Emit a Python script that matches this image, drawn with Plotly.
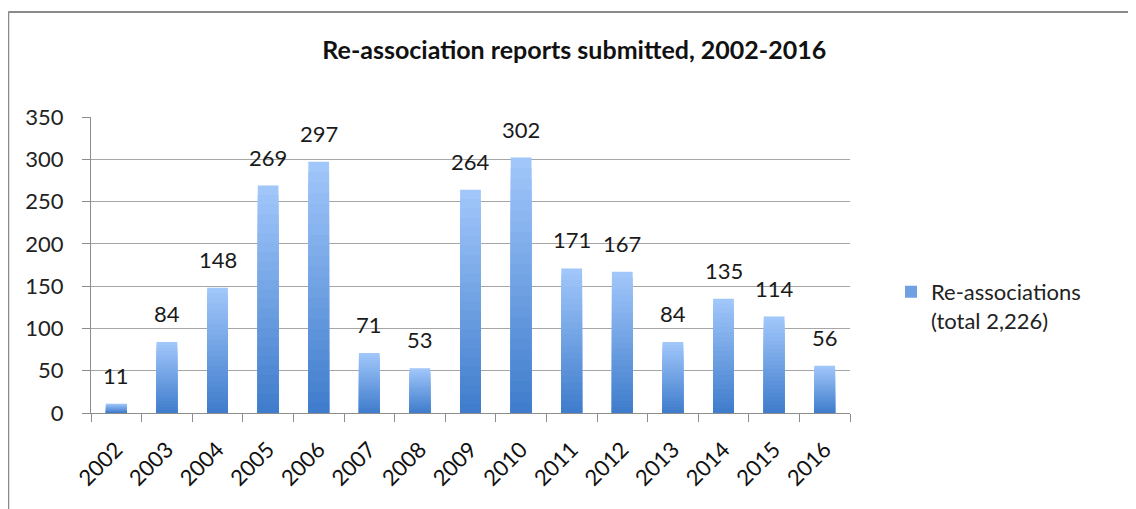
import plotly.graph_objects as go

years = ["2002", "2003", "2004", "2005", "2006", "2007", "2008", "2009",
         "2010", "2011", "2012", "2013", "2014", "2015", "2016"]
reports = [11, 84, 148, 269, 297, 71, 53, 264, 302, 171, 167, 84, 135, 114, 56]
series_name = "Re-associations<br>(total 2,226)"
chart_title = "Re-association reports submitted, 2002-2016"

FONT = "Lato"
top_rgb = (160, 198, 250)
bottom_rgb = (60, 122, 202)


def blend(k):
    r, g, b = [round(lo + (hi - lo) * k) for lo, hi in zip(bottom_rgb, top_rgb)]
    return f"rgb({r},{g},{b})"


fig = go.Figure()

# overlay shorter bars to fake Excel's vertical gradient (light top, dark bottom)
steps = 24
for i in range(steps, 0, -1):
    k = i / steps
    fig.add_trace(go.Bar(x=years, y=[v * k for v in reports], marker=dict(color=blend(k), line_width=0),
                         name=series_name, showlegend=(i == steps // 2), hoverinfo="skip"))

# value labels sit a little above each bar, like Excel
for idx, v in enumerate(reports):
    fig.add_annotation(x=idx, y=v, text=str(v), showarrow=False, yanchor="bottom", yshift=13,
                       font=dict(family=FONT, size=22, color="#1a1a1a"))

# the page body adds an 8px offset, so the figure is 8px smaller than the window
fig.update_layout(
    width=1128, height=501,
    barmode="overlay", bargap=0.59,
    paper_bgcolor="white", plot_bgcolor="white",
    margin=dict(l=83, r=286, t=109, b=96),
    font=dict(family=FONT, size=22, color="#222"),
    title=dict(text=f"<b>{chart_title}</b>", x=0.502, xanchor="center", y=0.916, yanchor="middle",
               font=dict(family=FONT, size=25, color="#111")),
    legend=dict(x=1.054, y=0.36, yanchor="middle", xanchor="left", valign="top",
                font=dict(family=FONT, size=22, color="#222"),
                itemsizing="constant", bgcolor="rgba(0,0,0,0)"),
    xaxis=dict(type="category", range=[-0.5, len(years) - 0.5], tickangle=-45, ticks="outside",
               tickson="boundaries", ticklen=8, ticklabelstandoff=14,
               tickcolor="#8c8c8c", showline=True, linecolor="#8c8c8c", linewidth=1, showgrid=False,
               automargin=False, tickfont=dict(family=FONT, size=22, color="#111")),
    yaxis=dict(range=[0, 350], dtick=50, ticks="outside", ticklen=8, tickcolor="#8c8c8c",
               ticklabelstandoff=14,
               showline=True, linecolor="#8c8c8c", linewidth=1, gridcolor="#a6a6a6", gridwidth=1,
               zeroline=False, automargin=False, tickfont=dict(family=FONT, size=22, color="#222")),
)

# chart frame (left and top edges visible in the crop)
fig.add_shape(type="line", xref="paper", yref="paper", x0=-0.109, x1=1.5, y0=1.355, y1=1.355,
              line=dict(color="#8a8a8a", width=2))
fig.add_shape(type="line", xref="paper", yref="paper", x0=-0.109, x1=-0.109, y0=-0.5, y1=1.355,
              line=dict(color="#8a8a8a", width=2))

fig.write_html("out.html")
